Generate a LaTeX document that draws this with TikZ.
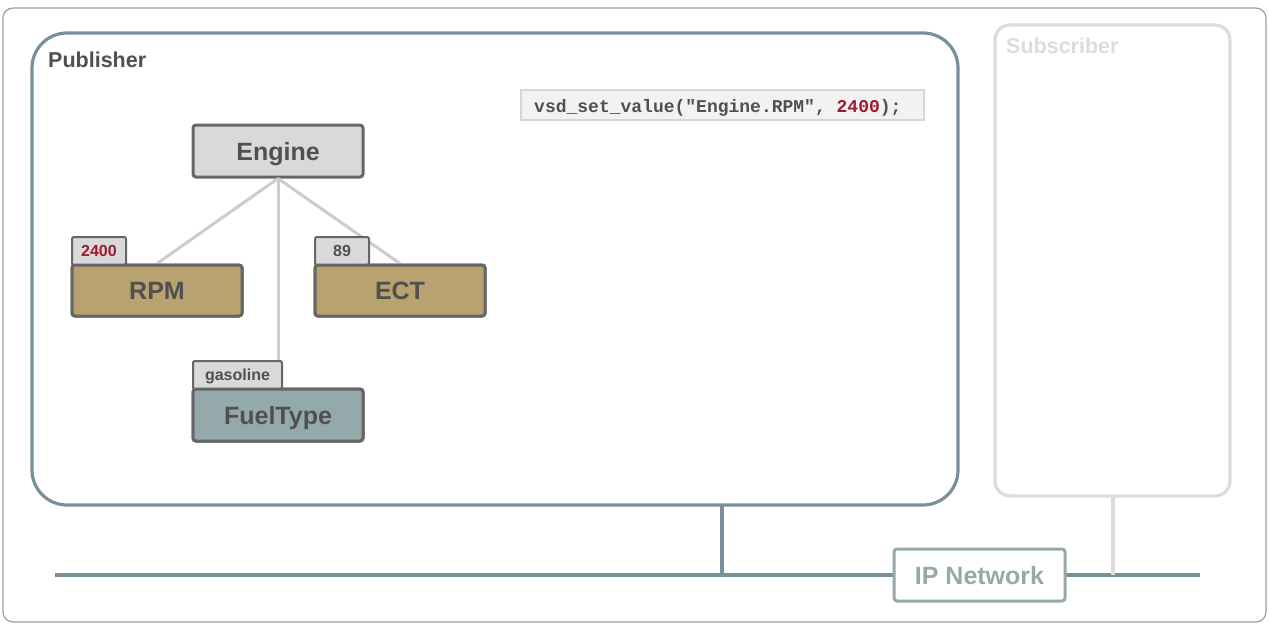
\documentclass[tikz,border=0pt]{standalone}
\usepackage{fontspec}
\setmainfont{Liberation Sans}
\newfontfamily\codefont{Liberation Mono}
\definecolor{outerc}{HTML}{8FA0A8}
\definecolor{pubc}{HTML}{798F99}
\definecolor{subc}{HTML}{DCDCDC}
\definecolor{txtc}{HTML}{505050}
\definecolor{strokec}{HTML}{666666}
\definecolor{greyfill}{HTML}{D9D9D9}
\definecolor{tanfill}{HTML}{B8A370}
\definecolor{fuelfill}{HTML}{94A9A9}
\definecolor{valred}{HTML}{9B1B30}
\definecolor{codefill}{HTML}{F2F2F2}
\definecolor{codestroke}{HTML}{D6D6D6}
\definecolor{ipc}{HTML}{95AAA8}
\definecolor{linkc}{HTML}{CCCCCC}
\tikzset{
  treebox/.style={draw=strokec, line width=3pt, rounded corners=3pt, minimum width=170pt, minimum height=51pt, inner sep=0pt, text=txtc, text height=18pt, text depth=0pt, font=\fontsize{25}{28}\selectfont\bfseries},
  tabbox/.style={draw=strokec, line width=2pt, rounded corners=2pt, fill=greyfill, minimum height=28pt, inner sep=0pt, text=txtc, text height=11.5pt, text depth=0pt, font=\fontsize{16}{18}\selectfont\bfseries},
  link/.style={draw=linkc, line width=3pt},
  title/.style={inner sep=0pt, anchor=base west, font=\fontsize{21.5}{25}\selectfont\bfseries},
}
\begin{document}
\begin{tikzpicture}[x=1pt,y=-1pt]
\useasboundingbox (0,0) rectangle (1269,632);
% outer frame
\node[draw=outerc, line width=1.2pt, rounded corners=10pt, minimum width=1263pt, minimum height=614pt, inner sep=0pt] (frame) at (634.5,315) {};
% publisher
\node[draw=pubc, line width=3.2pt, rounded corners=35pt, minimum width=926pt, minimum height=472pt, inner sep=0pt] (pub) at (495,269) {};
\node[title, text=txtc] (pubtitle) at (48,67) {Publisher};
% subscriber
\node[draw=subc, line width=3.2pt, rounded corners=15pt, minimum width=235pt, minimum height=471pt, inner sep=0pt] (sub) at (1112.5,260.5) {};
\node[title, text=subc] (subtitle) at (1006,53) {Subscriber};
% code
\node[draw=codestroke, line width=2pt, fill=codefill, minimum width=403pt, minimum height=30pt, inner sep=0pt] (code) at (722.5,105) {};
\node[inner sep=0pt, anchor=base west, text=txtc, font=\codefont\fontsize{18}{20}\selectfont\bfseries] (codetxt) at (534,112) {vsd\_set\_value("Engine.RPM", \textcolor{valred}{2400});};
% tree nodes
\node[treebox, fill=greyfill, minimum height=52pt] (engine) at (278,151) {Engine};
\node[treebox, fill=tanfill] (rpm) at (157,290.5) {RPM};
\node[treebox, fill=tanfill] (ect) at (400,290.5) {ECT};
\node[treebox, fill=fuelfill, minimum height=52pt] (fuel) at (278,415) {FuelType};
% links
\draw[link] (engine.south) -- (rpm.north);
\draw[link] (engine.south) -- (ect.north);
\draw[link] (engine.south) -- (fuel.north);
% tabs
\node[tabbox, minimum width=54pt, text=valred] (tabrpm) at (99,251) {2400};
\node[tabbox, minimum width=54pt] (tabect) at (342,251) {89};
\node[tabbox, minimum width=89pt] (tabfuel) at (237.5,375) {gasoline};
% redraw boxes over tabs' lower edges
\node[treebox, fill=tanfill] at (rpm) {RPM};
\node[treebox, fill=tanfill] at (ect) {ECT};
\node[treebox, fill=fuelfill, minimum height=52pt] at (fuel) {FuelType};
% network
\coordinate (netL) at (55,575);
\coordinate (netR) at (1200,575);
\coordinate (pubdrop) at (722,505);
\coordinate (subdrop) at (1113,496);
\draw[draw=pubc, line width=4pt] (netL) -- (netR);
\draw[draw=pubc, line width=4pt] (pubdrop) -- (pubdrop |- netL);
\draw[draw=subc, line width=3.5pt] (subdrop) -- (subdrop |- netL);
\node[draw=ipc, line width=3pt, fill=white, rounded corners=3pt, minimum width=171pt, minimum height=52pt, inner sep=0pt, text=ipc, text height=18pt, text depth=0pt, font=\fontsize{25}{28}\selectfont\bfseries] (ip) at (979.5,575) {IP Network};
\end{tikzpicture}
\end{document}
